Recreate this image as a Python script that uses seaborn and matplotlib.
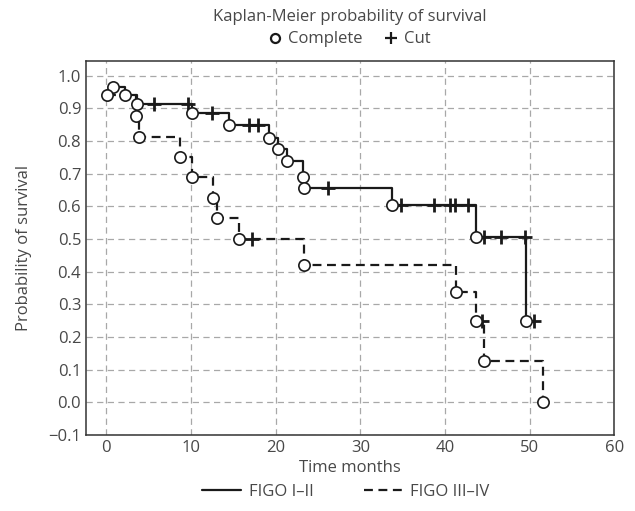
import matplotlib
matplotlib.use("Agg")
import matplotlib.pyplot as plt
from matplotlib.lines import Line2D
import seaborn as sns
import pandas as pd
import numpy as np

# ---- data ----
figo12_event_t = [0.8, 2.2, 3.6, 10.1, 14.5, 19.2, 20.3, 21.3, 23.2, 23.3, 33.7, 43.6, 49.6]
figo12_event_s = [0.966, 0.94, 0.914, 0.884, 0.85, 0.81, 0.774, 0.737, 0.69, 0.655, 0.605, 0.505, 0.25]
figo12_cens_t = [5.6, 9.6, 12.5, 16.9, 17.9, 26.2, 34.8, 38.7, 40.6, 41.2, 42.7, 44.6, 46.6, 49.4, 50.5]
figo12_cens_s = [0.914, 0.914, 0.884, 0.85, 0.85, 0.655, 0.605, 0.605, 0.605, 0.605, 0.605, 0.505, 0.505, 0.505, 0.25]

figo34_event_t = [0.1, 3.5, 3.8, 8.7, 10.1, 12.6, 13.1, 15.7, 23.3, 41.3, 43.6, 44.6, 51.6]
figo34_event_s = [0.94, 0.877, 0.813, 0.752, 0.69, 0.626, 0.563, 0.50, 0.42, 0.336, 0.25, 0.125, 0.0]
figo34_cens_t = [17.2, 44.4]
figo34_cens_s = [0.50, 0.25]

groups = ["FIGO I\u2013II", "FIGO III\u2013IV"]
x_ticks = [0, 10, 20, 30, 40, 50, 60]
y_ticks = [-0.1, 0.0, 0.1, 0.2, 0.3, 0.4, 0.5, 0.6, 0.7, 0.8, 0.9, 1.0]

# ---- build tidy frames ----
def curve(g, et, es, ct, cs):
    pts = sorted(list(zip(et, es)) + list(zip(ct, cs)), key=lambda p: p[0])
    return pd.DataFrame({"time": [p[0] for p in pts], "surv": [p[1] for p in pts], "group": g})

steps = pd.concat([
    curve(groups[0], figo12_event_t, figo12_event_s, figo12_cens_t, figo12_cens_s),
    curve(groups[1], figo34_event_t, figo34_event_s, figo34_cens_t, figo34_cens_s),
], ignore_index=True)
events = pd.DataFrame({"time": figo12_event_t + figo34_event_t,
                       "surv": figo12_event_s + figo34_event_s})
cens = pd.DataFrame({"time": figo12_cens_t + figo34_cens_t,
                     "surv": figo12_cens_s + figo34_cens_s})

sns.set_theme(style="white")
plt.rcParams["font.family"] = ["Open Sans", "DejaVu Sans"]
txt = "#484848"
plt.rcParams.update({"text.color": txt, "axes.labelcolor": txt,
                     "xtick.color": "#333333", "ytick.color": "#333333",
                     "xtick.labelcolor": txt, "ytick.labelcolor": txt})

FS = 12

fig = plt.figure(figsize=(6.35, 5.11), dpi=100)
ax = fig.add_axes([0.1355, 0.149, 0.832, 0.732])

line_col = "#1a1a1a"
for g, dash in zip(groups, [None, (4, 2.5)]):
    d = steps[steps["group"] == g]
    kw = dict(drawstyle="steps-post", color=line_col, lw=1.6)
    if dash is not None:
        kw["dashes"] = dash
    sns.lineplot(data=d, x="time", y="surv", estimator=None, sort=False, ax=ax, legend=False, **kw)

sns.scatterplot(data=cens, x="time", y="surv", marker="+", s=90, linewidth=2.0,
                color=line_col, ax=ax, legend=False, zorder=4)
sns.scatterplot(data=events, x="time", y="surv", marker="o", s=66, facecolor="white",
                edgecolor=line_col, linewidth=1.2, ax=ax, legend=False, zorder=5)

ax.set_xlim(-2.4, 60)
ax.set_ylim(-0.1, 1.045)
ax.set_xticks(x_ticks)
ax.set_yticks(y_ticks)
ax.set_yticklabels([("\u2212" if v < 0 else "") + f"{abs(v):.1f}" for v in y_ticks])
ax.grid(True, color="#a8a8a8", linestyle=(0, (5, 3.5)), linewidth=0.9)
ax.set_axisbelow(True)
for s in ax.spines.values():
    s.set_color("#333333")
    s.set_linewidth(1.1)
ax.tick_params(direction="in", length=4, width=0.9, labelsize=FS)
ax.set_xlabel("Time months", fontsize=FS, labelpad=3)
ax.set_ylabel("Probability of survival", fontsize=FS, labelpad=12)

# title + top marker legend
fig.text(0.551, 0.967, "Kaplan-Meier probability of survival", ha="center", va="center", fontsize=FS)
top_handles = [
    Line2D([], [], ls="none", marker="o", markersize=6.5, markerfacecolor="white",
           markeredgecolor=line_col, markeredgewidth=1.6),
    Line2D([], [], ls="none", marker="+", markersize=8, markeredgecolor=line_col,
           markeredgewidth=1.6),
]
fig.legend(top_handles, ["Complete", "Cut"], loc="center", bbox_to_anchor=(0.551, 0.923),
           ncol=2, frameon=False, fontsize=FS, handlelength=0.7, handletextpad=0.4,
           columnspacing=1.4)

bot_handles = [Line2D([], [], color=line_col, lw=1.6),
               Line2D([], [], color=line_col, lw=1.6, dashes=(4, 2.5))]
fig.legend(bot_handles, groups, loc="center", bbox_to_anchor=(0.545, 0.037), ncol=2,
           frameon=False, fontsize=FS, handlelength=2.3, handletextpad=0.5,
           columnspacing=3.0)

fig.savefig("out.png", dpi=100)
